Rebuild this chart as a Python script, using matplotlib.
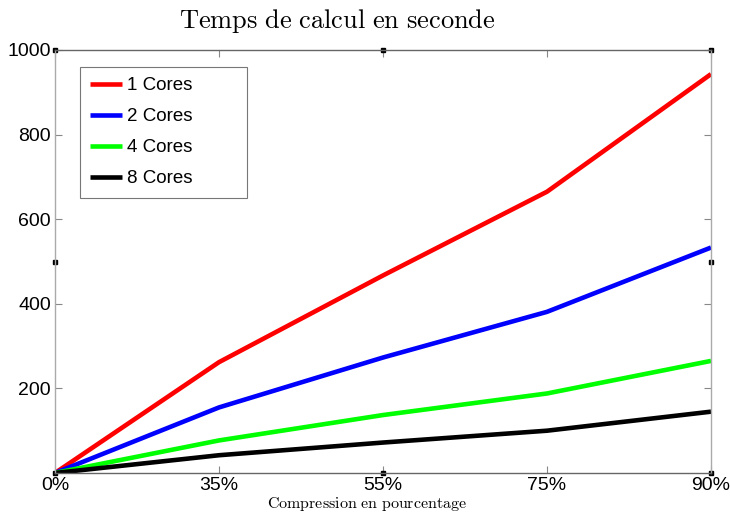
import matplotlib
matplotlib.use("Agg")
import matplotlib.pyplot as plt

plt.rcParams['mathtext.fontset'] = 'cm'
plt.rcParams['font.family'] = ['Liberation Sans', 'DejaVu Sans']

compression = ["0%", "35%", "55%", "75%", "90%"]
cores_1 = [0, 262, 467, 665, 943]
cores_2 = [0, 155, 273, 381, 533]
cores_4 = [0, 77, 137, 188, 265]
cores_8 = [0, 42, 72, 100, 145]
series = [("1 Cores", cores_1, "#ff0000"),
          ("2 Cores", cores_2, "#0000ff"),
          ("4 Cores", cores_4, "#00ff00"),
          ("8 Cores", cores_8, "#000000")]
y_ticks = [200, 400, 600, 800, 1000]

fig = plt.figure(figsize=(7.3, 5.12), dpi=100)
ax = fig.add_axes([55 / 730, 1 - 473 / 512, 656 / 730, 423 / 512])

x = list(range(len(compression)))
for label, vals, color in series:
    ax.plot(x, vals, color=color, lw=3.3, label=label, solid_capstyle='butt')

ax.set_xlim(0, len(compression) - 1)
ax.set_ylim(0, 1000)
ax.set_xticks(x)
ax.set_xticklabels(compression)
ax.set_yticks(y_ticks)
ax.tick_params(direction='in', length=5, width=0.8, color='#888888',
               labelsize=14, top=True, right=True, pad=3)
for side in ['left', 'right']:
    ax.spines[side].set_color('#aaaaaa')
for side in ['top', 'bottom']:
    ax.spines[side].set_color('#666666')
for sp in ax.spines.values():
    sp.set_linewidth(1.0)

# edit handles on the axes box
hx = [0, 0.5, 1, 0, 1, 0, 0.5, 1]
hy = [1, 1, 1, 0.5, 0.5, 0, 0, 0]
ax.plot(hx, hy, 's', ms=3.5, color='black', transform=ax.transAxes, clip_on=False)

fig.text(337 / 730, 1 - 21 / 512, r'$\mathrm{Temps\ de\ calcul\ en\ seconde}$',
         fontsize=19, ha='center', va='center')
fig.text(367 / 730, 1 - 504 / 512, r'$\mathrm{Compression\ en\ pourcentage}$',
         fontsize=11.5, ha='center', va='center')

leg = ax.legend(loc='upper left', bbox_to_anchor=(0.038, 0.655, 0.255, 0.305),
                mode='expand', fontsize=13.5, frameon=True, fancybox=False,
                edgecolor='#555555', handlelength=1.7, handletextpad=0.27,
                labelspacing=0.74, borderpad=0.55, borderaxespad=0)
leg.get_frame().set_linewidth(0.8)

fig.savefig("out.png", dpi=100)
